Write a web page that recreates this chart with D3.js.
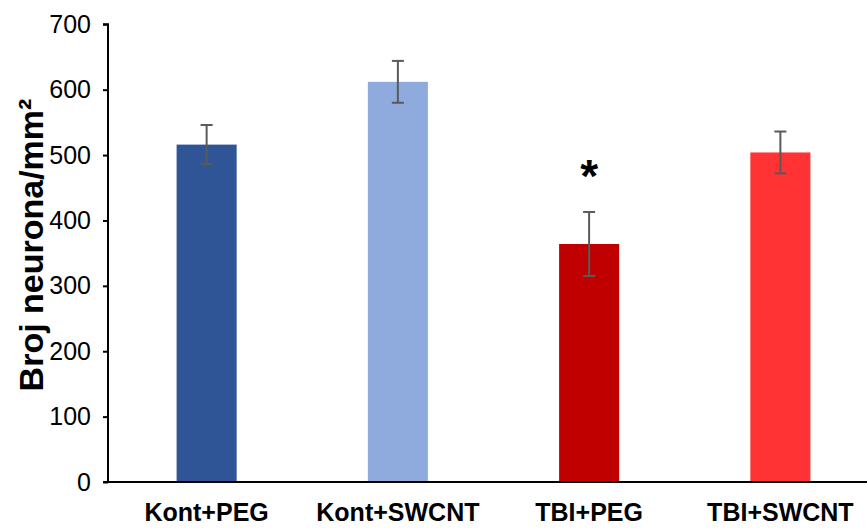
<!DOCTYPE html>
<html>
<head>
<meta charset="utf-8">
<script src="https://cdn.jsdelivr.net/npm/d3@7"></script>
<style>
  body { margin: 0; background: #fff; }
  text { font-family: "Liberation Sans", Arial, sans-serif; }
</style>
</head>
<body>
<div id="chart"></div>
<script>
// data
let groups = ["Kont+PEG", "Kont+SWCNT", "TBI+PEG", "TBI+SWCNT"];
let means = [516, 612, 364, 504];
let errors = [30, 32, 49, 32];
let colors = ["#2F5597", "#8FAADC", "#C00000", "#FF3333"];
let yTicks = [0, 100, 200, 300, 400, 500, 600, 700];
let marked = ["TBI+PEG"];

let W = 867, H = 528;
let margin = {top: 24, left: 108, bottom: 46};
let plotBottom = H - margin.bottom;

let svg = d3.select("#chart")
  .append("svg")
  .attr("width", W)
  .attr("height", H);

let x = d3.scaleBand()
  .domain(groups)
  .range([111, 876])
  .paddingInner(0.686)
  .paddingOuter(0.343);

let y = d3.scaleLinear()
  .domain([0, 700])
  .range([plotBottom, margin.top + 0.3]);

// bars
svg.append("g")
  .selectAll("rect")
  .data(groups)
  .enter().append("rect")
    .attr("x", d => x(d))
    .attr("y", (d, i) => y(means[i]))
    .attr("width", x.bandwidth())
    .attr("height", (d, i) => y(0) - y(means[i]))
    .style("fill", (d, i) => colors[i]);

// error bars
let eb = svg.append("g")
  .selectAll("g")
  .data(groups)
  .enter().append("g")
    .style("stroke", "#5a5a5a")
    .style("stroke-width", 2);
eb.append("line")
  .attr("x1", d => x(d) + x.bandwidth() / 2)
  .attr("x2", d => x(d) + x.bandwidth() / 2)
  .attr("y1", (d, i) => y(means[i] + errors[i]))
  .attr("y2", (d, i) => y(means[i] - errors[i]));
eb.append("line")
  .attr("x1", d => x(d) + x.bandwidth() / 2 - 6)
  .attr("x2", d => x(d) + x.bandwidth() / 2 + 6)
  .attr("y1", (d, i) => y(means[i] + errors[i]))
  .attr("y2", (d, i) => y(means[i] + errors[i]));
eb.append("line")
  .attr("x1", d => x(d) + x.bandwidth() / 2 - 6)
  .attr("x2", d => x(d) + x.bandwidth() / 2 + 6)
  .attr("y1", (d, i) => y(means[i] - errors[i]))
  .attr("y2", (d, i) => y(means[i] - errors[i]));

// significance star
svg.append("g")
  .selectAll("text")
  .data(marked)
  .enter().append("text")
    .attr("x", d => x(d) + x.bandwidth() / 2)
    .attr("y", d => y(means[groups.indexOf(d)] + errors[groups.indexOf(d)]) - 20)
    .attr("text-anchor", "middle")
    .style("font-size", "46px")
    .style("font-weight", "bold")
    .text("*");

// Y axis
let yAxis = svg.append("g")
  .attr("transform", "translate(" + margin.left + ",0)")
  .call(d3.axisLeft(y).tickValues(yTicks).tickSize(5).tickPadding(12));
yAxis.select(".domain").attr("stroke", "#000").attr("stroke-width", 2)
  .attr("d", "M-5," + y(700) + "H0V" + y(0));
yAxis.selectAll(".tick line").attr("stroke", "#000").attr("stroke-width", 2);
yAxis.selectAll(".tick text")
  .style("font-size", "25px")
  .style("fill", "#000")
  .style("font-family", "'Liberation Sans', Arial, sans-serif");

// X axis line
svg.append("line")
  .attr("x1", margin.left - 5)
  .attr("x2", W)
  .attr("y1", y(0))
  .attr("y2", y(0))
  .style("stroke", "#000")
  .style("stroke-width", 2);

// X labels
svg.append("g")
  .selectAll("text")
  .data(groups)
  .enter().append("text")
    .attr("x", d => x(d) + x.bandwidth() / 2)
    .attr("y", 521)
    .attr("text-anchor", "middle")
    .style("font-size", "25px")
    .style("font-weight", "bold")
    .text(d => d);

// Y title
svg.append("text")
  .attr("transform", "translate(43," + 245 + ") rotate(-90)")
  .attr("text-anchor", "middle")
  .style("font-size", "34px")
  .style("font-weight", "bold")
  .text("Broj neurona/mm²");
</script>
</body>
</html>
